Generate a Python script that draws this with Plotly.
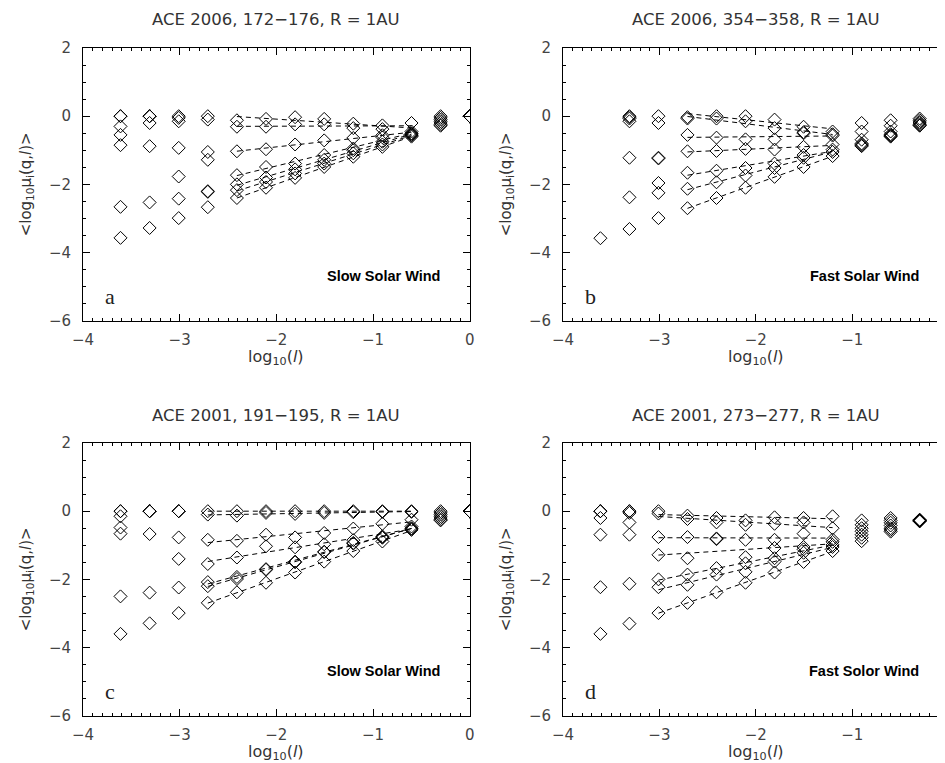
import numpy as np
import plotly.graph_objects as go

# x positions: log10 of scale l (l = 2^-12 ... 2^0)
LOG_L = [-3.612, -3.311, -3.010, -2.709, -2.408, -2.107, -1.806, -1.505, -1.204, -0.903, -0.602, -0.301, 0.0]

NAN = float("nan")

# Panel a: ACE 2006, 172-176 (slow wind)
A_SERIES = [
    [0, 0, 0, 0, -0.12, -0.08, -0.03, -0.08, -0.22, -0.27, -0.45, 0, 0],
    [0, 0, -0.05, -0.1, -0.31, -0.31, -0.24, -0.24, -0.35, -0.38, -0.2, -0.05, 0],
    [-0.3, 0, -0.15, -1.05, -1.03, -0.97, -0.83, -0.71, -0.64, -0.56, -0.5, -0.1, 0],
    [-0.55, -0.2, -0.93, -1.28, -1.73, -1.49, -1.39, -1.14, -0.95, -0.62, -0.52, -0.15, 0],
    [-0.85, -0.88, -1.77, -2.2, -2.0, -1.8, -1.56, -1.28, -1.0, -0.75, -0.55, -0.2, 0],
    [-2.66, -2.53, -2.42, -2.22, -2.17, -1.93, -1.68, -1.39, -1.09, -0.83, -0.57, -0.25, 0],
    [-3.57, -3.28, -2.99, -2.67, -2.4, -2.1, -1.81, -1.49, -1.19, -0.9, -0.6, -0.28, 0],
]

# Panel b: ACE 2006, 354-358 (fast wind)
B_SERIES = [
    [NAN, 0, 0, -0.03, 0.0, 0.0, -0.1, -0.31, -0.45, -0.2, -0.12, -0.07, 0],
    [NAN, -0.03, -0.2, -0.07, -0.07, -0.15, -0.35, -0.47, -0.53, -0.45, -0.28, -0.12, 0],
    [NAN, -0.07, -1.22, -0.55, -0.63, -0.68, -0.68, -0.5, -0.57, -0.69, -0.45, -0.17, 0],
    [NAN, -0.15, -1.24, -1.03, -1.02, -0.96, -0.98, -0.9, -0.83, -0.8, -0.53, -0.2, 0],
    [NAN, -1.22, -1.96, -1.66, -1.6, -1.52, -1.39, -1.14, -0.98, -0.83, -0.56, -0.24, 0],
    [NAN, -2.38, -2.25, -2.13, -1.94, -1.74, -1.52, -1.22, -1.05, -0.86, -0.58, -0.27, 0],
    [-3.58, -3.31, -2.99, -2.7, -2.4, -2.1, -1.78, -1.49, -1.17, -0.88, -0.6, -0.28, 0],
]

# Panel c: ACE 2001, 191-195 (slow wind)
C_SERIES = [
    [0, 0, 0, 0, 0, 0, 0, 0, 0, 0, 0, 0, 0],
    [0, 0, 0, -0.1, -0.13, -0.05, -0.08, -0.05, -0.03, -0.02, -0.02, -0.05, 0],
    [-0.15, 0, 0, -0.84, -0.87, -0.69, -0.77, -0.64, -0.51, -0.37, -0.25, -0.1, 0],
    [-0.48, 0, -0.77, -1.55, -1.36, -1.03, -1.06, -0.97, -0.85, -0.74, -0.45, -0.15, 0],
    [-0.66, -0.67, -1.4, -2.08, -1.93, -1.7, -1.48, -1.19, -0.93, -0.76, -0.5, -0.2, 0],
    [-2.5, -2.39, -2.24, -2.2, -1.99, -1.72, -1.5, -1.2, -0.95, -0.78, -0.52, -0.25, 0],
    [-3.6, -3.29, -2.99, -2.69, -2.38, -2.1, -1.8, -1.48, -1.17, -0.89, -0.55, -0.27, 0],
]

# Panel d: ACE 2001, 273-277 (fast wind)
D_SERIES = [
    [0, 0, 0, -0.13, -0.2, -0.27, -0.18, -0.2, -0.15, -0.27, -0.2, -0.25, 0],
    [0, 0, -0.07, -0.23, -0.33, -0.4, -0.37, -0.33, -0.5, -0.4, -0.27, -0.26, 0],
    [0, -0.05, -0.76, -0.76, -0.8, -0.84, -0.84, -0.66, -0.83, -0.5, -0.34, -0.27, 0],
    [-0.2, -0.33, -1.28, -1.38, -0.82, -1.35, -1.08, -1.05, -0.9, -0.59, -0.42, -0.28, 0],
    [-0.69, -0.69, -2.0, -1.86, -1.67, -1.53, -1.38, -1.12, -0.99, -0.69, -0.5, -0.28, 0],
    [-2.23, -2.13, -2.23, -2.16, -1.86, -1.78, -1.48, -1.22, -1.05, -0.78, -0.55, -0.29, 0],
    [-3.6, -3.3, -2.99, -2.69, -2.38, -2.1, -1.8, -1.49, -1.17, -0.88, -0.6, -0.3, 0],
]

# fit ranges (first, last column index)
FIT_A = (4, 10)
FIT_B = (3, 8)
FIT_C = (3, 10)
FIT_D = (2, 8)

TITLES = ["ACE 2006, 172\u2212176, R = 1AU", "ACE 2006, 354\u2212358, R = 1AU",
          "ACE 2001, 191\u2212195, R = 1AU", "ACE 2001, 273\u2212277, R = 1AU"]
WIND = ["Slow Solar Wind", "Fast Solar Wind", "Slow Solar Wind", "Fast Solor Wind"]
LETTERS = ["a", "b", "c", "d"]

W, H = 945, 763
# panel frames in pixels (left, right, top, bottom)
FRAMES = [(75, 461.7, 40, 312.7), (555, 940.7, 40, 312.7),
          (75, 461.7, 435, 707.7), (555, 940.7, 435, 707.7)]

panels = [(A_SERIES, FIT_A), (B_SERIES, FIT_B), (C_SERIES, FIT_C), (D_SERIES, FIT_D)]

fig = go.Figure()
x = np.array(LOG_L)
for i, (series, (f0, f1)) in enumerate(panels):
    xa = "x" if i == 0 else f"x{i+1}"
    ya = "y" if i == 0 else f"y{i+1}"
    for s in series:
        ys = np.array(s, dtype=float)
        fig.add_trace(go.Scatter(
            x=x, y=ys, mode="markers", xaxis=xa, yaxis=ya, showlegend=False,
            marker=dict(symbol="diamond-open", size=10, color="black", line=dict(width=1, color="black"))))
        xf = x[f0:f1 + 1]
        yf = ys[f0:f1 + 1]
        ok = ~np.isnan(yf)
        coef = np.polyfit(xf[ok], yf[ok], 1)
        xl = np.array([xf[0], xf[-1]])
        fig.add_trace(go.Scatter(
            x=xl, y=np.polyval(coef, xl), mode="lines", xaxis=xa, yaxis=ya, showlegend=False,
            line=dict(color="black", width=1, dash="5px,4px")))

FONT = "DejaVu Sans"
tickfont = dict(size=15, color="#444", family=FONT)
annotations = []
for i, (l, r, t, b) in enumerate(FRAMES):
    xkey = "xaxis" if i == 0 else f"xaxis{i+1}"
    ykey = "yaxis" if i == 0 else f"yaxis{i+1}"
    xa = "x" if i == 0 else f"x{i+1}"
    ya = "y" if i == 0 else f"y{i+1}"
    fig.layout[xkey] = dict(
        domain=[l / W, r / W], anchor=ya, range=[-4, 0], showgrid=False, zeroline=False,
        showline=True, linecolor="black", linewidth=1, mirror="allticks",
        ticks="inside", ticklen=7, tickcolor="black", tickvals=[-4, -3, -2, -1, 0],
        ticktext=["\u22124", "\u22123", "\u22122", "\u22121", "0"],
        minor=dict(dtick=0.1, tick0=0, ticks="inside", ticklen=3, tickcolor="black"),
        tickfont=tickfont, ticklabelstandoff=5, ticklabeloverflow="allow", automargin=False)
    fig.layout[ykey] = dict(
        domain=[1 - b / H, 1 - t / H], anchor=xa, range=[-6, 2], showgrid=False, zeroline=False,
        showline=True, linecolor="black", linewidth=1, mirror="allticks",
        ticks="inside", ticklen=7, tickcolor="black", tickvals=[-6, -4, -2, 0, 2],
        ticktext=["\u22126", "\u22124", "\u22122", "0", "2"],
        minor=dict(dtick=0.5, tick0=0, ticks="inside", ticklen=3, tickcolor="black"),
        tickfont=tickfont, ticklabelstandoff=8, ticklabeloverflow="allow", automargin=False)
    cx = (l + r) / 2
    # panel title
    annotations.append(dict(text=TITLES[i], xref="paper", yref="paper", x=cx / W, y=1 - (t - 28) / H,
                            showarrow=False, font=dict(size=16.5, color="#333", family=FONT),
                            xanchor="center", yanchor="middle"))
    # x axis title
    annotations.append(dict(text="log<sub>10</sub>(<i>l</i>)", xref="paper", yref="paper", x=cx / W,
                            y=1 - (b + 37) / H, showarrow=False,
                            font=dict(size=16, color="#333", family=FONT),
                            xanchor="center", yanchor="middle"))
    # y axis title
    annotations.append(dict(text="&lt;log<sub>10</sub>\u03bc<sub>i</sub>(q,<i>l</i>)&gt;", xref="paper", yref="paper",
                            x=(l - 57) / W, y=1 - (t + b) / 2 / H, showarrow=False, textangle=-90,
                            font=dict(size=15, color="#333", family=FONT),
                            xanchor="center", yanchor="middle"))
    # wind label
    annotations.append(dict(text="<b>" + WIND[i] + "</b>", xref=xa, yref=ya, x=-0.29, y=-4.68,
                            showarrow=False, xanchor="right", yanchor="middle",
                            font=dict(size=14.5, color="black", family="Liberation Sans")))
    # panel letter
    annotations.append(dict(text=LETTERS[i], xref=xa, yref=ya, x=-3.72, y=-5.3,
                            showarrow=False, xanchor="center", yanchor="middle",
                            font=dict(size=22, color="#222", family="Liberation Serif")))

fig.update_layout(width=W, height=H, margin=dict(l=0, r=0, t=0, b=0),
                  paper_bgcolor="white", plot_bgcolor="white", annotations=annotations,
                  showlegend=False)
fig.write_html("out.html")
